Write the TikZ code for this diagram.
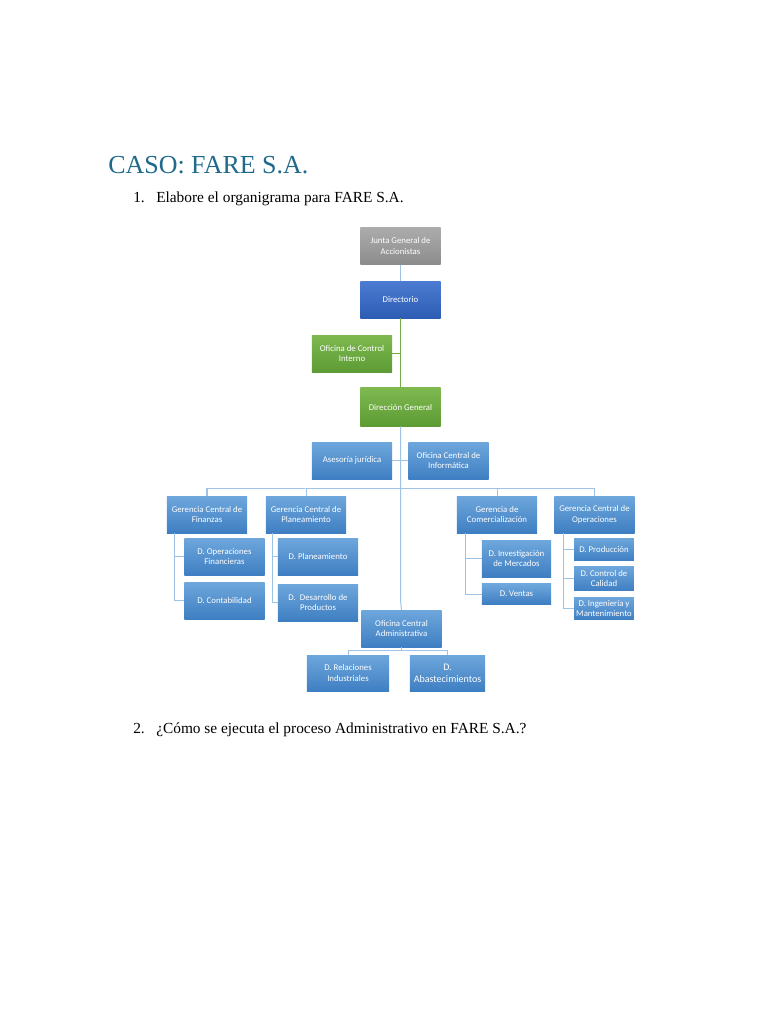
\documentclass[tikz,border=0pt]{standalone}
\usepackage{fontspec}
\setmainfont{Liberation Serif}
\newfontfamily\boxfont{Carlito}
\usetikzlibrary{calc}

\definecolor{titleteal}{HTML}{1F6A8A}
\definecolor{linkblue}{HTML}{9DC3E6}
\definecolor{linkgreen}{HTML}{70AD47}

\tikzset{
  unit/.style = {rectangle, inner sep=1pt, align=center, text=white,
                 font=\boxfont\fontsize{7}{8.5}\selectfont,
                 minimum width=63.8pt, minimum height=29.5pt},
  bluebox/.style  = {unit, top color={rgb,255:red,110;green,167;blue,220}, bottom color={rgb,255:red,62;green,126;blue,194}},
  darkbox/.style  = {unit, top color={rgb,255:red,76;green,124;blue,210}, bottom color={rgb,255:red,45;green,92;blue,180}},
  greenbox/.style = {unit, top color={rgb,255:red,126;green,185;blue,80}, bottom color={rgb,255:red,93;green,155;blue,52}},
  graybox/.style  = {unit, top color={rgb,255:red,172;green,172;blue,172}, bottom color={rgb,255:red,140;green,140;blue,140}},
  blueline/.style  = {draw=linkblue, line width=.8pt},
  greenline/.style = {draw=linkgreen, line width=.8pt}
}

\begin{document}
\begin{tikzpicture}[x=0.797pt, y=-0.797pt]
  \useasboundingbox[fill=white] (0,0) rectangle (768,1024);

  %%texts
  \node[anchor=base west, inner sep=0, text=titleteal, font=\fontsize{20.7}{24}\selectfont] (title) at (108,173) {CASO: FARE S.A.};
  \node[anchor=base west, inner sep=0, font=\fontsize{12.25}{14}\selectfont] (q1n) at (133,202) {1.};
  \node[anchor=base west, inner sep=0, font=\fontsize{12.25}{14}\selectfont] (q1) at (156,202) {Elabore el organigrama para FARE S.A.};
  \node[anchor=base west, inner sep=0, font=\fontsize{12.25}{14}\selectfont] (q2n) at (133,733) {2.};
  \node[anchor=base west, inner sep=0, font=\fontsize{12.25}{14}\selectfont] (q2) at (156,733) {¿Cómo se ejecuta el proceso Administrativo en FARE S.A.?};

  %%top
  \node[graybox] (junta) at (400.5,246) {Junta General de\\Accionistas};
  \node[darkbox] (dir) at (400.5,299.5) {Directorio};
  \node[greenbox] (oci) at (352,353.5) {Oficina de Control\\Interno};
  \node[greenbox, minimum height=30.3pt] (dg) at (400.5,407) {Dirección General};
  \node[bluebox] (ase) at (352,460.5) {Asesoría jurídica};
  \node[bluebox] (inf) at (448.5,460.5) {Oficina Central de\\Informática};

  %%gerencias
  \node[bluebox] (fin) at (207,514.5) {Gerencia Central de\\Finanzas};
  \node[bluebox] (pla) at (306,514.5) {Gerencia Central de\\Planeamiento};
  \node[bluebox] (com) at (497,514.5) {Gerencia de\\Comercialización};
  \node[bluebox] (ope) at (594.5,514.5) {Gerencia Central de\\Operaciones};

  %%departamentos
  \node[bluebox] (dof) at (224.5,556.5) {D. Operaciones\\Financieras};
  \node[bluebox] (dco) at (224.5,600.5) {D. Contabilidad};
  \node[bluebox] (dpl) at (318,556.5) {D. Planeamiento};
  \node[bluebox] (ddp) at (318,602.5) {D.~ Desarrollo de\\Productos};
  \node[bluebox, minimum width=55pt] (dim) at (516.5,558.5) {D. Investigación\\de Mercados};
  \node[bluebox, minimum width=55pt, minimum height=16pt] (dve) at (516.5,594) {D. Ventas};
  \node[bluebox, minimum width=47.8pt, minimum height=18.3pt] (dpr) at (604,549.5) {D. Producción};
  \node[bluebox, minimum width=47.8pt, minimum height=19.9pt] (dcc) at (604,578.5) {D. Control de\\Calidad};
  \node[bluebox, minimum width=47.8pt, minimum height=18.3pt] (dig) at (604,608.5) {D. Ingeniería y\\Mantenimiento};

  %%administrativa
  \node[bluebox] (oca) at (401.5,628.5) {Oficina Central\\Administrativa};
  \node[bluebox, minimum width=65.4pt, minimum height=28.7pt] (dri) at (348,673) {D. Relaciones\\Industriales};
  \node[bluebox, minimum width=59.8pt, minimum height=28.7pt, font=\boxfont\fontsize{8}{9.5}\selectfont] (dab) at (447.5,673) {D.\\Abastecimientos};

  %%links
  \coordinate (bus) at (400.5,488);
  \coordinate (kink) at (400.5,600);
  \coordinate (ocabus) at (401.5,650);
  \draw[blueline] (junta) -- (dir);
  \draw[greenline] (dir) -- (dg);
  \draw[greenline] (oci.east) -- (oci.east -| dir.south);
  \draw[blueline] (dg.south) -- (kink) -- (oca.north);
  \draw[blueline] (ase.east) -- (ase.east -| dg.south);
  \draw[blueline] (inf.west) -- (inf.west -| dg.south);
  \draw[blueline] (fin.north) |- (bus) -| (ope.north);
  \draw[blueline] (pla.north) |- (bus);
  \draw[blueline] (com.north) |- (bus);

  \draw[blueline] ($(fin.south west)+(8,0)$) |- (dof.west);
  \draw[blueline] ($(fin.south west)+(8,0)$) |- (dco.west);
  \draw[blueline] ($(pla.south west)+(7,0)$) |- (dpl.west);
  \draw[blueline] ($(pla.south west)+(7,0)$) |- (ddp.west);
  \draw[blueline] ($(com.south west)+(9,0)$) |- (dim.west);
  \draw[blueline] ($(com.south west)+(9,0)$) |- (dve.west);
  \draw[blueline] ($(ope.south west)+(9,0)$) |- (dpr.west);
  \draw[blueline] ($(ope.south west)+(9,0)$) |- (dcc.west);
  \draw[blueline] ($(ope.south west)+(9,0)$) |- (dig.west);

  \draw[blueline] (oca.south) -- (ocabus);
  \draw[blueline] (dri.north) |- (ocabus) -| (dab.north);
\end{tikzpicture}
\end{document}
